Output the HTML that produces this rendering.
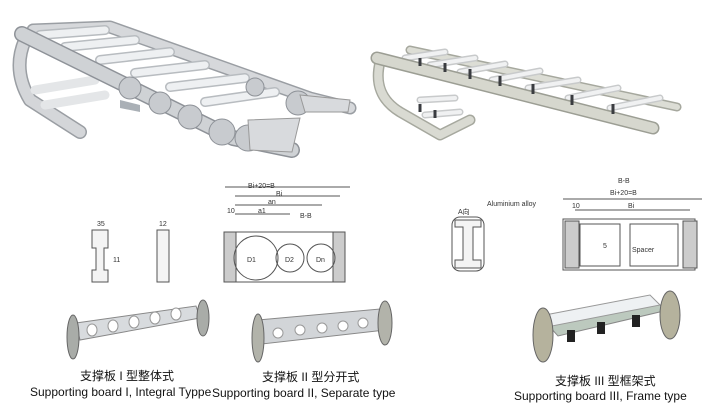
<!DOCTYPE html>
<html><head><meta charset="utf-8"><style>
body{margin:0;background:#fff;width:720px;height:411px;overflow:hidden}
svg{display:block}
text{font-family:"Liberation Sans","Noto Sans CJK SC",sans-serif}
</style></head><body>
<svg width="720" height="411" viewBox="0 0 720 411" xmlns="http://www.w3.org/2000/svg">
<!-- left chain photo -->
<g fill="none" stroke-linejoin="round" stroke-linecap="round">
<path d="M25,40 Q12,70 30,100 L80,132" stroke="#9a9ea3" stroke-width="14"/>
<path d="M25,40 Q12,70 30,100 L80,132" stroke="#d4d6d9" stroke-width="11"/>
<path d="M35,90 L95,80 M45,105 L105,95" stroke="#e4e6e8" stroke-width="9"/>
<path d="M33,30 L110,27 L310,98 L350,108" stroke="#9a9ea3" stroke-width="13"/>
<path d="M33,30 L110,27 L310,98 L350,108" stroke="#d6d8db" stroke-width="10"/>
<path d="M40,35 L105,30 M65,47 L135,40 M100,60 L170,52 M135,73 L205,65 M170,87 L245,78 M205,102 L275,92" stroke="#b8bcc0" stroke-width="10"/>
<path d="M40,35 L105,30 M65,47 L135,40 M100,60 L170,52 M135,73 L205,65 M170,87 L245,78 M205,102 L275,92" stroke="#eef0f2" stroke-width="7"/>
<path d="M22,34 L233,138 L292,150" stroke="#8e9298" stroke-width="16"/>
<path d="M22,34 L233,138 L292,150" stroke="#cfd2d5" stroke-width="13"/>
</g>
<g fill="#c8cbcf" stroke="#8e9298">
<circle cx="130" cy="88" r="11"/><circle cx="160" cy="103" r="11"/><circle cx="190" cy="117" r="12"/><circle cx="222" cy="132" r="13"/><circle cx="248" cy="138" r="13"/><circle cx="298" cy="103" r="12"/><circle cx="255" cy="87" r="9"/>
</g>
<polygon points="120,100 140,105 140,112 120,108" fill="#aab0b6"/>
<polygon points="248,120 300,118 292,152 250,150" fill="#d8dadd" stroke="#999"/>
<polygon points="300,95 350,100 348,112 305,112" fill="#d8dadd" stroke="#999"/>
<!-- right chain photo -->
<g fill="none" stroke-linejoin="round" stroke-linecap="round">
<path d="M380,62 Q372,95 400,112 L440,135 L470,120" stroke="#a6a89e" stroke-width="11"/>
<path d="M380,62 Q372,95 400,112 L440,135 L470,120" stroke="#d9dad2" stroke-width="8"/>
<path d="M410,50 L677,107" stroke="#a6a89e" stroke-width="9"/>
<path d="M410,50 L677,107" stroke="#dcddd5" stroke-width="6"/>
<path d="M405,58 L445,52 M430,65 L475,58 M460,72 L505,64 M492,80 L540,71 M528,88 L578,80 M568,98 L618,88 M610,108 L660,98 M420,100 L455,98 M425,115 L460,112" stroke="#c8cacb" stroke-width="7"/>
<path d="M405,58 L445,52 M430,65 L475,58 M460,72 L505,64 M492,80 L540,71 M528,88 L578,80 M568,98 L618,88 M610,108 L660,98 M420,100 L455,98 M425,115 L460,112" stroke="#f0f1f2" stroke-width="4"/>
<path d="M377,58 L653,128" stroke="#9c9e94" stroke-width="13"/>
<path d="M377,58 L653,128" stroke="#d6d7ce" stroke-width="10"/>
</g>
<g stroke="#3a3c40" stroke-width="3">
<line x1="420" y1="58" x2="420" y2="66"/><line x1="445" y1="63" x2="445" y2="72"/><line x1="470" y1="69" x2="470" y2="79"/><line x1="500" y1="76" x2="500" y2="86"/><line x1="533" y1="84" x2="533" y2="94"/><line x1="572" y1="95" x2="572" y2="105"/><line x1="613" y1="104" x2="613" y2="114"/><line x1="420" y1="104" x2="420" y2="112"/><line x1="435" y1="110" x2="435" y2="118"/>
</g>
<!-- drawings -->
<g fill="none" stroke="#555" stroke-width="1">
<path d="M92,230 h16 v18 h-4 v22 h4 v12 h-16 v-12 h4 v-22 h-4 z" fill="#f4f4f4"/>
<rect x="157" y="230" width="12" height="52" fill="#f4f4f4"/>
<rect x="224" y="232" width="120" height="50"/>
<rect x="224" y="232" width="12" height="50" fill="#ccc"/>
<rect x="333" y="232" width="12" height="50" fill="#ccc"/>
<circle cx="256" cy="258" r="22"/><circle cx="290" cy="258" r="14"/><circle cx="321" cy="258" r="14"/>
<line x1="225" y1="187" x2="350" y2="187"/><line x1="235" y1="196" x2="340" y2="196"/><line x1="235" y1="205" x2="322" y2="205"/><line x1="235" y1="214" x2="290" y2="214"/>
<path d="M455,220 h26 v7 h-8 v33 h8 v8 h-26 v-8 h8 v-33 h-8 z" fill="#f4f4f4"/>
<rect x="452" y="217" width="32" height="54" rx="8"/>
<rect x="563" y="219" width="132" height="51"/>
<rect x="565" y="221" width="14" height="47" fill="#ccc"/><rect x="683" y="221" width="14" height="47" fill="#ccc"/>
<rect x="580" y="224" width="40" height="42"/><rect x="630" y="224" width="48" height="42"/>
<line x1="563" y1="199" x2="702" y2="199"/><line x1="575" y1="210" x2="690" y2="210"/>
</g>
<g font-size="7" fill="#333">
<text x="97" y="226">35</text><text x="159" y="226">12</text><text x="113" y="262">11</text>
<text x="248" y="188">Bi+20=B</text><text x="276" y="196">Bi</text><text x="268" y="204">an</text><text x="258" y="213">a1</text><text x="300" y="218">B-B</text>
<text x="247" y="262">D1</text><text x="285" y="262">D2</text><text x="316" y="262">Dn</text>
<text x="618" y="183">B-B</text><text x="610" y="195">Bi+20=B</text><text x="628" y="208">Bi</text>
<text x="458" y="214">A向</text><text x="487" y="206">Aluminium alloy</text><text x="603" y="248">5</text><text x="632" y="252">Spacer</text>
<text x="572" y="208">10</text><text x="227" y="213">10</text>
</g>
<!-- board I -->
<polygon points="76,323 196,306 200,318 80,340" fill="#d8dbde" stroke="#888"/>
<g fill="#fff" stroke="#999"><ellipse cx="92" cy="330" rx="5" ry="6"/><ellipse cx="113" cy="326" rx="5" ry="6"/><ellipse cx="134" cy="322" rx="5" ry="6"/><ellipse cx="155" cy="318" rx="5" ry="6"/><ellipse cx="176" cy="314" rx="5" ry="6"/></g>
<ellipse cx="73" cy="337" rx="6" ry="22" fill="#a9aca8" stroke="#666"/>
<ellipse cx="203" cy="318" rx="6" ry="18" fill="#a9aca8" stroke="#666"/>
<!-- board II -->
<polygon points="258,320 380,309 385,330 262,344" fill="#d2d5d8" stroke="#888"/>
<g fill="#fff" stroke="#999"><ellipse cx="278" cy="333" rx="5" ry="5"/><ellipse cx="300" cy="330" rx="5" ry="5"/><ellipse cx="322" cy="328" rx="5" ry="5"/><ellipse cx="343" cy="326" rx="5" ry="5"/><ellipse cx="363" cy="323" rx="5" ry="5"/></g>
<ellipse cx="258" cy="338" rx="6" ry="24" fill="#b2b3aa" stroke="#666"/>
<ellipse cx="385" cy="323" rx="7" ry="22" fill="#b2b3aa" stroke="#666"/>
<!-- board III -->
<polygon points="548,325 655,302 668,310 558,336" fill="#bcc9be" stroke="#888"/>
<polygon points="545,315 650,295 660,305 552,326" fill="#eef1f3" stroke="#999"/>
<g fill="#222"><rect x="567" y="330" width="8" height="12"/><rect x="597" y="322" width="8" height="12"/><rect x="632" y="315" width="8" height="12"/></g>
<ellipse cx="543" cy="335" rx="10" ry="27" fill="#b5b29d" stroke="#666"/>
<ellipse cx="670" cy="315" rx="10" ry="24" fill="#b5b29d" stroke="#666"/>
<!-- captions -->
<g font-size="12" fill="#111">
<text x="80" y="380">支撑板 I 型整体式</text>
<text x="30" y="396">Supporting board I, Integral Typpe</text>
<text x="262" y="381">支撑板 II 型分开式</text>
<text x="212" y="397">Supporting board II, Separate type</text>
<text x="555" y="385">支撑板 III 型框架式</text>
<text x="514" y="400">Supporting board III, Frame type</text>
</g>
</svg>
</body></html>
